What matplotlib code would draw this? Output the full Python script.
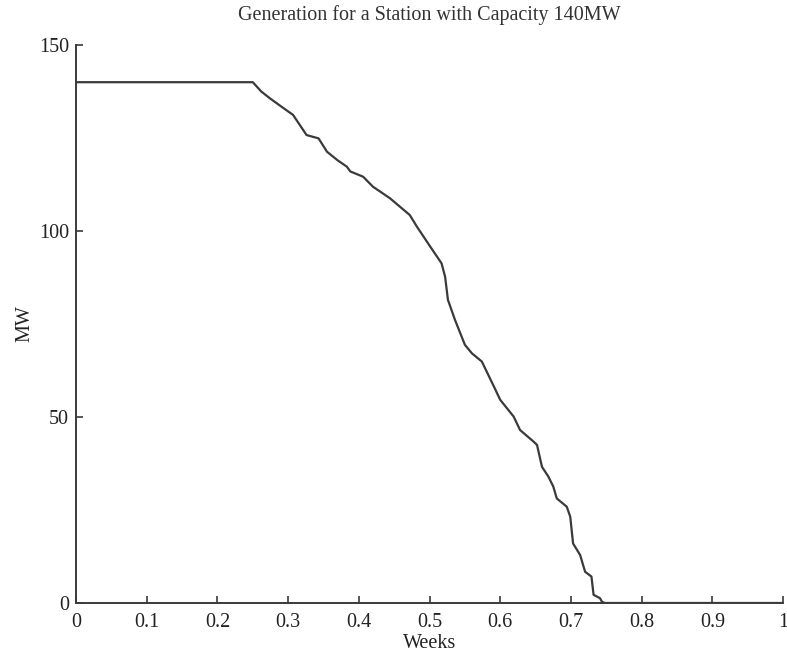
import matplotlib
matplotlib.use("Agg")
import matplotlib.pyplot as plt

# generation duration curve
weeks = [0.0, 0.250, 0.262, 0.274, 0.290, 0.307, 0.326, 0.343, 0.355, 0.370,
         0.383, 0.388, 0.406, 0.420, 0.444, 0.472, 0.482, 0.501, 0.517, 0.522,
         0.526, 0.536, 0.550, 0.560, 0.574, 0.590, 0.600, 0.619, 0.628, 0.647,
         0.652, 0.659, 0.668, 0.675, 0.680, 0.694, 0.699, 0.701, 0.703, 0.713,
         0.720, 0.729, 0.732, 0.741, 0.744, 0.748, 1.0]
mw = [140.0, 140.0, 137.5, 135.7, 133.5, 131.2, 125.8, 124.9, 121.3, 119.0,
      117.3, 116.0, 114.6, 111.9, 108.8, 104.3, 101.2, 95.8, 91.3, 87.7,
      81.5, 76.1, 69.4, 67.1, 64.9, 58.6, 54.6, 50.1, 46.5, 43.4,
      42.5, 36.6, 34.0, 31.3, 28.1, 25.9, 23.2, 19.6, 16.0, 12.9,
      8.4, 7.1, 2.2, 1.3, 0.3, 0.0, 0.0]

xticks = [0, 0.1, 0.2, 0.3, 0.4, 0.5, 0.6, 0.7, 0.8, 0.9, 1]
xtick_labels = ["0", "0.1", "0.2", "0.3", "0.4", "0.5", "0.6", "0.7", "0.8", "0.9", "1"]
yticks = [0, 50, 100, 150]

plt.rcParams["font.family"] = ["Liberation Serif", "DejaVu Serif"]
ink = "#3a3a3a"

fig = plt.figure(figsize=(7.87, 6.55), dpi=100)
ax = fig.add_axes([0.0966, 0.0794, 0.8984, 0.8519])

ax.plot(weeks, mw, color=ink, linewidth=1.6)

ax.set_xlim(0, 1)
ax.set_ylim(0, 150)
ax.set_xticks(xticks)
ax.set_xticklabels(xtick_labels)
ax.set_yticks(yticks)

ax.spines["top"].set_visible(False)
ax.spines["right"].set_visible(False)
for s in ("left", "bottom"):
    ax.spines[s].set_color(ink)
    ax.spines[s].set_linewidth(1.4)

ax.tick_params(direction="in", length=5, width=1.2, color=ink,
               labelsize=14.5, labelcolor="#222222")
ax.tick_params(axis="x", pad=7.5)
ax.tick_params(axis="y", pad=5)

ax.set_title("Generation for a Station with Capacity 140MW",
             fontsize=14.5, color="#333333", pad=18)
ax.set_xlabel("Weeks", fontsize=14.5, color="#222222", labelpad=1.5)
ax.set_ylabel("MW", fontsize=14.5, color="#222222", labelpad=3)

fig.savefig("out.png", dpi=100)
plt.close(fig)
